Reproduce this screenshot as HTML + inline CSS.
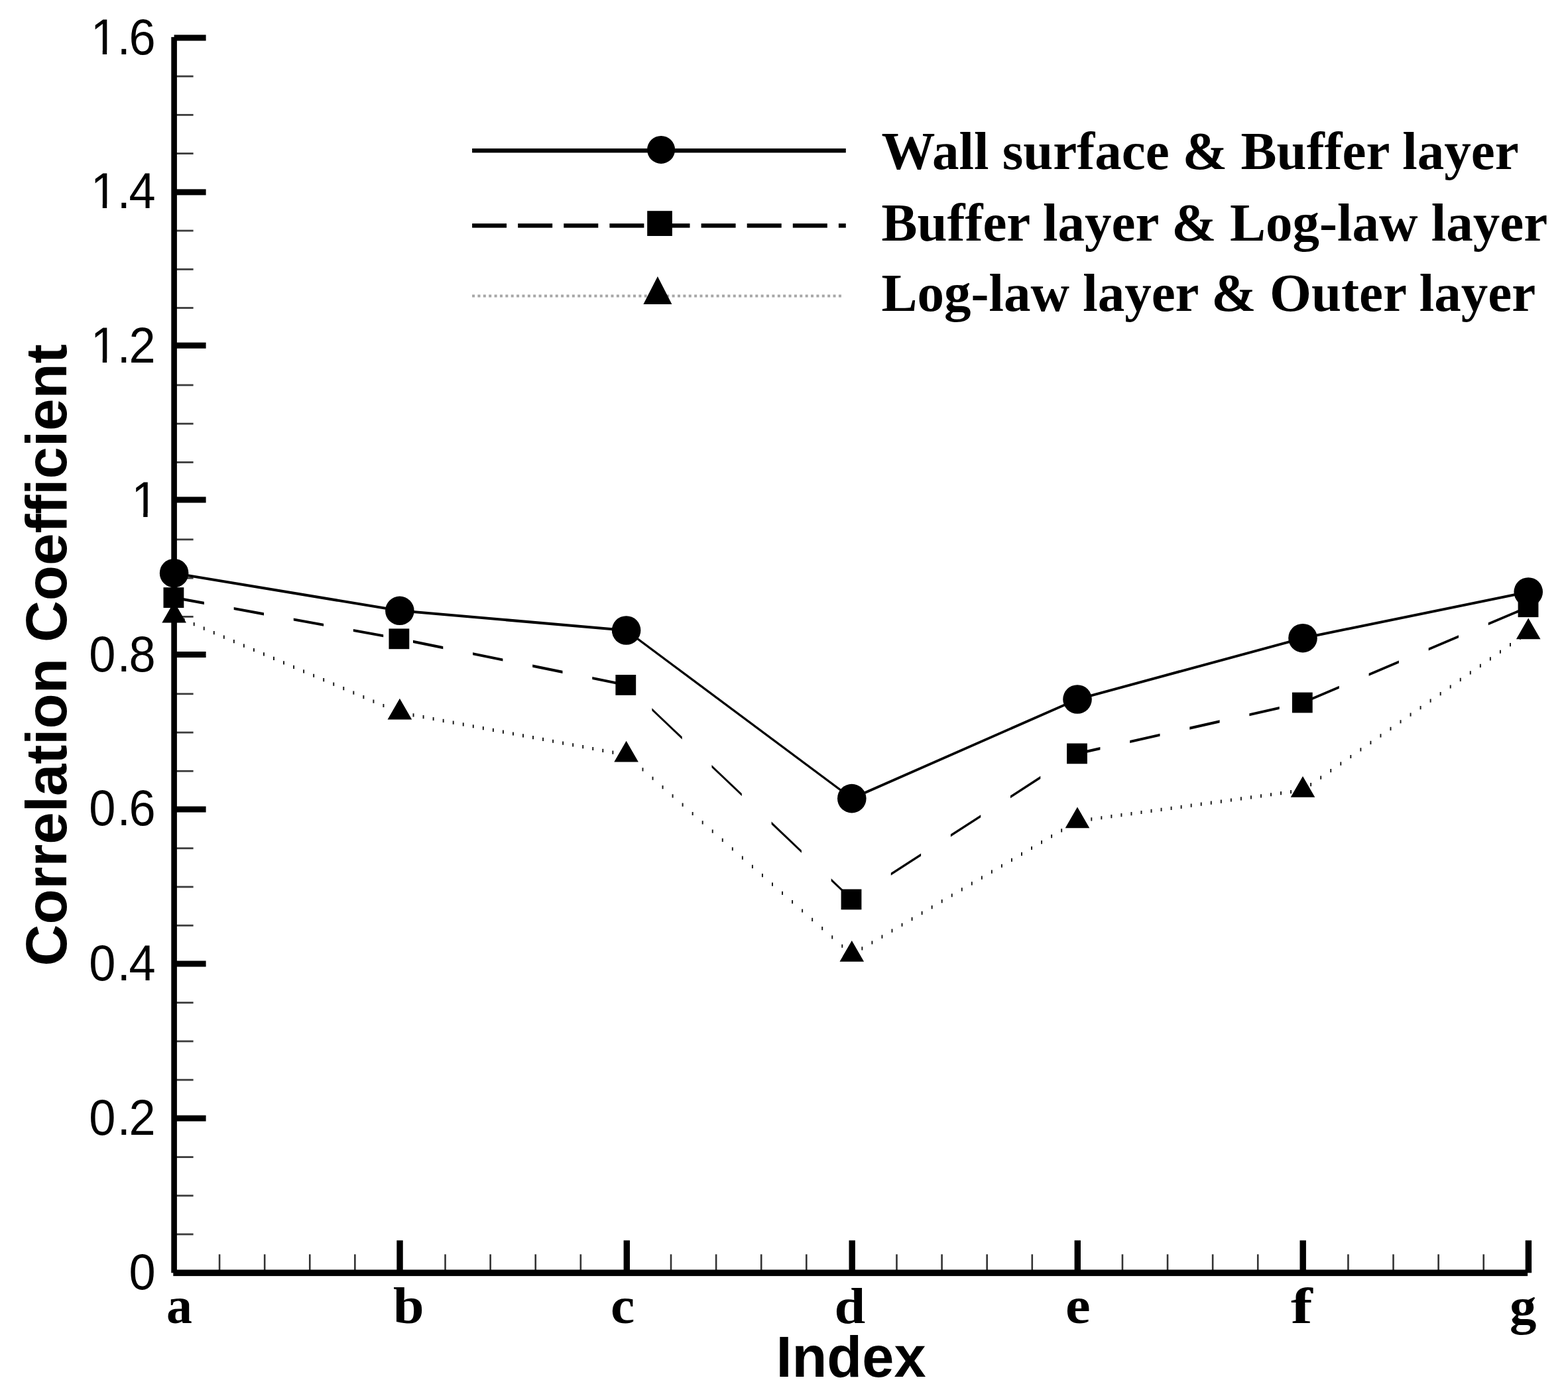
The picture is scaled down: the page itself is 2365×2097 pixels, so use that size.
<!DOCTYPE html>
<html lang="en">
<head>
<meta charset="utf-8">
<title>Correlation Coefficient vs Index</title>
<style>
html,body{margin:0;padding:0;background:#fff;}
body{width:2365px;height:2097px;overflow:hidden;}
svg{display:block;}
</style>
</head>
<body>
<svg width="2365" height="2097" viewBox="0 0 2365 2097" style="font-variant-ligatures:none;font-kerning:normal">
<rect x="0" y="0" width="2365" height="2097" fill="#fff"/>
<g id="minor" fill="#3c3c3c">
<rect x="262.6" y="113.73" width="29" height="2.8"/>
<rect x="262.6" y="171.96" width="29" height="2.8"/>
<rect x="262.6" y="230.19" width="29" height="2.8"/>
<rect x="262.6" y="346.66" width="29" height="2.8"/>
<rect x="262.6" y="404.89" width="29" height="2.8"/>
<rect x="262.6" y="463.12" width="29" height="2.8"/>
<rect x="262.6" y="579.58" width="29" height="2.8"/>
<rect x="262.6" y="637.81" width="29" height="2.8"/>
<rect x="262.6" y="696.04" width="29" height="2.8"/>
<rect x="262.6" y="812.51" width="29" height="2.8"/>
<rect x="262.6" y="870.74" width="29" height="2.8"/>
<rect x="262.6" y="928.97" width="29" height="2.8"/>
<rect x="262.6" y="1045.43" width="29" height="2.8"/>
<rect x="262.6" y="1103.66" width="29" height="2.8"/>
<rect x="262.6" y="1161.89" width="29" height="2.8"/>
<rect x="262.6" y="1278.36" width="29" height="2.8"/>
<rect x="262.6" y="1336.59" width="29" height="2.8"/>
<rect x="262.6" y="1394.82" width="29" height="2.8"/>
<rect x="262.6" y="1511.28" width="29" height="2.8"/>
<rect x="262.6" y="1569.51" width="29" height="2.8"/>
<rect x="262.6" y="1627.74" width="29" height="2.8"/>
<rect x="262.6" y="1744.21" width="29" height="2.8"/>
<rect x="262.6" y="1802.44" width="29" height="2.8"/>
<rect x="262.6" y="1860.67" width="29" height="2.8"/>
<rect x="329.79" y="1892.3" width="2.6" height="28" fill="#333"/>
<rect x="397.89" y="1892.3" width="2.6" height="28" fill="#333"/>
<rect x="465.98" y="1892.3" width="2.6" height="28" fill="#333"/>
<rect x="534.07" y="1892.3" width="2.6" height="28" fill="#333"/>
<rect x="670.26" y="1892.3" width="2.6" height="28" fill="#333"/>
<rect x="738.35" y="1892.3" width="2.6" height="28" fill="#333"/>
<rect x="806.45" y="1892.3" width="2.6" height="28" fill="#333"/>
<rect x="874.54" y="1892.3" width="2.6" height="28" fill="#333"/>
<rect x="1010.73" y="1892.3" width="2.6" height="28" fill="#333"/>
<rect x="1078.82" y="1892.3" width="2.6" height="28" fill="#333"/>
<rect x="1146.91" y="1892.3" width="2.6" height="28" fill="#333"/>
<rect x="1215.01" y="1892.3" width="2.6" height="28" fill="#333"/>
<rect x="1351.19" y="1892.3" width="2.6" height="28" fill="#333"/>
<rect x="1419.29" y="1892.3" width="2.6" height="28" fill="#333"/>
<rect x="1487.38" y="1892.3" width="2.6" height="28" fill="#333"/>
<rect x="1555.47" y="1892.3" width="2.6" height="28" fill="#333"/>
<rect x="1691.66" y="1892.3" width="2.6" height="28" fill="#333"/>
<rect x="1759.75" y="1892.3" width="2.6" height="28" fill="#333"/>
<rect x="1827.85" y="1892.3" width="2.6" height="28" fill="#333"/>
<rect x="1895.94" y="1892.3" width="2.6" height="28" fill="#333"/>
<rect x="2032.13" y="1892.3" width="2.6" height="28" fill="#333"/>
<rect x="2100.22" y="1892.3" width="2.6" height="28" fill="#333"/>
<rect x="2168.31" y="1892.3" width="2.6" height="28" fill="#333"/>
<rect x="2236.41" y="1892.3" width="2.6" height="28" fill="#333"/>
</g>
<g id="axes" fill="#000">
<rect x="258.3" y="55.9" width="8.6" height="1864.4"/>
<rect x="261.3" y="1915.5" width="2042.8" height="9.6"/>
<rect x="262.6" y="52.5" width="48" height="9"/>
<rect x="262.6" y="285.4" width="48" height="9"/>
<rect x="262.6" y="516.7" width="48" height="9"/>
<rect x="262.6" y="749.5" width="48" height="9"/>
<rect x="262.6" y="983" width="48" height="9"/>
<rect x="262.6" y="1216.5" width="48" height="9"/>
<rect x="262.6" y="1449.5" width="48" height="9"/>
<rect x="262.6" y="1682.6" width="48" height="9"/>
<rect x="598.35" y="1871.3" width="9.4" height="49"/>
<rect x="940.6" y="1871.3" width="9.4" height="49"/>
<rect x="1280.5" y="1871.3" width="9.4" height="49"/>
<rect x="1620.6" y="1871.3" width="9.4" height="49"/>
<rect x="1960.5" y="1871.3" width="9.4" height="49"/>
<rect x="2300.7" y="1871.3" width="9.4" height="49"/>
</g>
<g id="series" fill="#000">
<path d="M262.6 862.65 L602.9 919.25 L944.6 948.95 L1284.8 1202.55 L1625 1052.95 L1965 960.65 L2305.2 890.95 L2305.2 895.05 L1965 964.75 L1625 1057.05 L1284.8 1206.65 L944.6 953.05 L602.9 923.35 L262.6 866.75Z"/>
<path d="M262.6 899.55 L307.9 907.83 L307.9 911.93 L262.6 903.65Z M352.7 916.02 L398 924.3 L398 928.4 L352.7 920.12Z M442.8 932.49 L488.1 940.77 L488.1 944.87 L442.8 936.59Z M532.9 948.96 L578.2 957.24 L578.2 961.34 L532.9 953.06Z M623 965.84 L668.3 975.07 L668.3 979.17 L623 969.94Z M713.1 984.2 L758.4 993.42 L758.4 997.52 L713.1 988.3Z M803.2 1002.55 L848.5 1011.78 L848.5 1015.88 L803.2 1006.65Z M893.3 1020.9 L938.6 1030.13 L938.6 1034.23 L893.3 1025Z M983.4 1068.25 L1028.7 1111.32 L1028.7 1115.42 L983.4 1072.35Z M1073.5 1153.92 L1118.8 1197 L1118.8 1201.1 L1073.5 1158.02Z M1163.6 1239.6 L1208.9 1282.68 L1208.9 1286.78 L1163.6 1243.7Z M1253.7 1325.28 L1284.8 1354.85 L1299 1345.67 L1299 1349.77 L1284.8 1358.95 L1253.7 1329.38Z M1343.8 1316.7 L1389.1 1287.4 L1389.1 1291.5 L1343.8 1320.8Z M1433.9 1258.43 L1479.2 1229.14 L1479.2 1233.24 L1433.9 1262.53Z M1524 1200.16 L1569.3 1170.87 L1569.3 1174.97 L1524 1204.26Z M1614.1 1141.9 L1625 1134.85 L1659.4 1127.07 L1659.4 1131.17 L1625 1138.95 L1614.1 1146Z M1704.2 1116.94 L1749.5 1106.69 L1749.5 1110.79 L1704.2 1121.04Z M1794.3 1096.56 L1839.6 1086.31 L1839.6 1090.41 L1794.3 1100.66Z M1884.4 1076.18 L1929.7 1065.93 L1929.7 1070.03 L1884.4 1080.28Z M1974.5 1053.92 L2019.8 1034.71 L2019.8 1038.81 L1974.5 1058.02Z M2064.6 1015.7 L2109.9 996.49 L2109.9 1000.59 L2064.6 1019.8Z M2154.7 977.49 L2200 958.27 L2200 962.37 L2154.7 981.59Z M2244.8 939.27 L2290.1 920.05 L2290.1 924.15 L2244.8 943.37Z"/>
<path fill="#1a1a1a" d="M276.64 932.66h2v5.2h-2z M291.68 939.12h2v5.2h-2z M306.72 945.58h2v5.2h-2z M321.76 952.05h2v5.2h-2z M336.8 958.51h2v5.2h-2z M351.84 964.97h2v5.2h-2z M366.88 971.43h2v5.2h-2z M381.92 977.89h2v5.2h-2z M396.96 984.35h2v5.2h-2z M412 990.81h2v5.2h-2z M427.04 997.28h2v5.2h-2z M442.08 1003.74h2v5.2h-2z M457.12 1010.2h2v5.2h-2z M472.16 1016.66h2v5.2h-2z M487.2 1023.12h2v5.2h-2z M502.24 1029.58h2v5.2h-2z M517.28 1036.05h2v5.2h-2z M532.32 1042.51h2v5.2h-2z M547.36 1048.97h2v5.2h-2z M562.4 1055.43h2v5.2h-2z M577.44 1061.89h2v5.2h-2z M622.56 1076.26h2v5.2h-2z M637.6 1079.08h2v5.2h-2z M652.64 1081.89h2v5.2h-2z M667.68 1084.7h2v5.2h-2z M682.72 1087.51h2v5.2h-2z M697.76 1090.33h2v5.2h-2z M712.8 1093.14h2v5.2h-2z M727.84 1095.95h2v5.2h-2z M742.88 1098.76h2v5.2h-2z M757.92 1101.58h2v5.2h-2z M772.96 1104.39h2v5.2h-2z M788 1107.2h2v5.2h-2z M803.04 1110.01h2v5.2h-2z M818.08 1112.83h2v5.2h-2z M833.12 1115.64h2v5.2h-2z M848.16 1118.45h2v5.2h-2z M863.2 1121.26h2v5.2h-2z M878.24 1124.08h2v5.2h-2z M893.28 1126.89h2v5.2h-2z M908.32 1129.7h2v5.2h-2z M923.36 1132.51h2v5.2h-2z M968.48 1158.33h2v5.2h-2z M983.52 1171.64h2v5.2h-2z M998.56 1184.96h2v5.2h-2z M1013.6 1198.28h2v5.2h-2z M1028.64 1211.59h2v5.2h-2z M1043.68 1224.91h2v5.2h-2z M1058.72 1238.22h2v5.2h-2z M1073.76 1251.54h2v5.2h-2z M1088.8 1264.85h2v5.2h-2z M1103.84 1278.17h2v5.2h-2z M1118.88 1291.49h2v5.2h-2z M1133.92 1304.8h2v5.2h-2z M1148.96 1318.12h2v5.2h-2z M1164 1331.43h2v5.2h-2z M1179.04 1344.75h2v5.2h-2z M1194.08 1358.07h2v5.2h-2z M1209.12 1371.38h2v5.2h-2z M1224.16 1384.7h2v5.2h-2z M1239.2 1398.01h2v5.2h-2z M1254.24 1411.33h2v5.2h-2z M1269.28 1424.64h2v5.2h-2z M1299.36 1428.29h2v5.2h-2z M1314.4 1419.38h2v5.2h-2z M1329.44 1410.48h2v5.2h-2z M1344.48 1401.58h2v5.2h-2z M1359.52 1392.67h2v5.2h-2z M1374.56 1383.77h2v5.2h-2z M1389.6 1374.87h2v5.2h-2z M1404.64 1365.96h2v5.2h-2z M1419.68 1357.06h2v5.2h-2z M1434.72 1348.15h2v5.2h-2z M1449.76 1339.25h2v5.2h-2z M1464.8 1330.35h2v5.2h-2z M1479.84 1321.44h2v5.2h-2z M1494.88 1312.54h2v5.2h-2z M1509.92 1303.64h2v5.2h-2z M1524.96 1294.73h2v5.2h-2z M1540 1285.83h2v5.2h-2z M1555.04 1276.92h2v5.2h-2z M1570.08 1268.02h2v5.2h-2z M1585.12 1259.12h2v5.2h-2z M1600.16 1250.21h2v5.2h-2z M1645.28 1233.19h2v5.2h-2z M1660.32 1231.13h2v5.2h-2z M1675.36 1229.08h2v5.2h-2z M1690.4 1227.02h2v5.2h-2z M1705.44 1224.96h2v5.2h-2z M1720.48 1222.9h2v5.2h-2z M1735.52 1220.85h2v5.2h-2z M1750.56 1218.79h2v5.2h-2z M1765.6 1216.73h2v5.2h-2z M1780.64 1214.68h2v5.2h-2z M1795.68 1212.62h2v5.2h-2z M1810.72 1210.56h2v5.2h-2z M1825.76 1208.51h2v5.2h-2z M1840.8 1206.45h2v5.2h-2z M1855.84 1204.39h2v5.2h-2z M1870.88 1202.34h2v5.2h-2z M1885.92 1200.28h2v5.2h-2z M1900.96 1198.22h2v5.2h-2z M1916 1196.16h2v5.2h-2z M1931.04 1194.11h2v5.2h-2z M1946.08 1192.05h2v5.2h-2z M1976.16 1181.07h2v5.2h-2z M1991.2 1170.52h2v5.2h-2z M2006.24 1159.97h2v5.2h-2z M2021.28 1149.43h2v5.2h-2z M2036.32 1138.88h2v5.2h-2z M2051.36 1128.33h2v5.2h-2z M2066.4 1117.78h2v5.2h-2z M2081.44 1107.23h2v5.2h-2z M2096.48 1096.68h2v5.2h-2z M2111.52 1086.14h2v5.2h-2z M2126.56 1075.59h2v5.2h-2z M2141.6 1065.04h2v5.2h-2z M2156.64 1054.49h2v5.2h-2z M2171.68 1043.94h2v5.2h-2z M2186.72 1033.39h2v5.2h-2z M2201.76 1022.85h2v5.2h-2z M2216.8 1012.3h2v5.2h-2z M2231.84 1001.75h2v5.2h-2z M2246.88 991.2h2v5.2h-2z M2261.92 980.65h2v5.2h-2z M2276.96 970.1h2v5.2h-2z M2292 959.56h2v5.2h-2z"/>
<circle cx="262.6" cy="864.7" r="21.8"/>
<circle cx="602.9" cy="921.3" r="21.8"/>
<circle cx="944.6" cy="951" r="21.8"/>
<circle cx="1284.8" cy="1204.6" r="21.8"/>
<circle cx="1625" cy="1055" r="21.8"/>
<circle cx="1965" cy="962.7" r="21.8"/>
<circle cx="2305.2" cy="893" r="21.8"/>
<rect x="246.5" y="886.2" width="30.8" height="30.8"/>
<rect x="586.5" y="948.4" width="30.8" height="30.8"/>
<rect x="928.4" y="1018" width="30.8" height="30.8"/>
<rect x="1268.6" y="1341.5" width="30.8" height="30.8"/>
<rect x="1609.1" y="1121.5" width="30.8" height="30.8"/>
<rect x="1948.9" y="1044.6" width="30.8" height="30.8"/>
<rect x="2289.6" y="900.3" width="30.8" height="30.8"/>
<path d="M262.6 907.6 L280.9 939.4 L244.3 939.4Z"/>
<path d="M602.9 1053.8 L621.2 1085.6 L584.6 1085.6Z"/>
<path d="M944.6 1117.7 L962.9 1149.5 L926.3 1149.5Z"/>
<path d="M1284.8 1418.9 L1303.1 1450.7 L1266.5 1450.7Z"/>
<path d="M1625 1217.5 L1643.3 1249.3 L1606.7 1249.3Z"/>
<path d="M1965 1171 L1983.3 1202.8 L1946.7 1202.8Z"/>
<path d="M2305.2 932.4 L2323.5 964.2 L2286.9 964.2Z"/>
</g>
<g id="legend" fill="#000">
<rect x="712.1" y="224" width="563.7" height="6.4"/>
<rect x="712.1" y="337.2" width="52" height="6.4"/>
<rect x="781.2" y="337.2" width="52" height="6.4"/>
<rect x="850.3" y="337.2" width="52" height="6.4"/>
<rect x="919.4" y="337.2" width="52" height="6.4"/>
<rect x="988.5" y="337.2" width="52" height="6.4"/>
<rect x="1057.6" y="337.2" width="52" height="6.4"/>
<rect x="1126.7" y="337.2" width="52" height="6.4"/>
<rect x="1195.8" y="337.2" width="52" height="6.4"/>
<rect x="1264.9" y="337.2" width="10.9" height="6.4"/>
<path fill="#a6a6a6" d="M712.1 444.5h4v4h-4z M720.48 444.5h4v4h-4z M728.85 444.5h4v4h-4z M737.23 444.5h4v4h-4z M745.6 444.5h4v4h-4z M753.98 444.5h4v4h-4z M762.36 444.5h4v4h-4z M770.73 444.5h4v4h-4z M779.11 444.5h4v4h-4z M787.48 444.5h4v4h-4z M795.86 444.5h4v4h-4z M804.24 444.5h4v4h-4z M812.61 444.5h4v4h-4z M820.99 444.5h4v4h-4z M829.36 444.5h4v4h-4z M837.74 444.5h4v4h-4z M846.12 444.5h4v4h-4z M854.49 444.5h4v4h-4z M862.87 444.5h4v4h-4z M871.24 444.5h4v4h-4z M879.62 444.5h4v4h-4z M888 444.5h4v4h-4z M896.37 444.5h4v4h-4z M904.75 444.5h4v4h-4z M913.12 444.5h4v4h-4z M921.5 444.5h4v4h-4z M929.88 444.5h4v4h-4z M938.25 444.5h4v4h-4z M946.63 444.5h4v4h-4z M955 444.5h4v4h-4z M963.38 444.5h4v4h-4z M971.76 444.5h4v4h-4z M980.13 444.5h4v4h-4z M988.51 444.5h4v4h-4z M996.88 444.5h4v4h-4z M1005.26 444.5h4v4h-4z M1013.64 444.5h4v4h-4z M1022.01 444.5h4v4h-4z M1030.39 444.5h4v4h-4z M1038.76 444.5h4v4h-4z M1047.14 444.5h4v4h-4z M1055.52 444.5h4v4h-4z M1063.89 444.5h4v4h-4z M1072.27 444.5h4v4h-4z M1080.64 444.5h4v4h-4z M1089.02 444.5h4v4h-4z M1097.4 444.5h4v4h-4z M1105.77 444.5h4v4h-4z M1114.15 444.5h4v4h-4z M1122.52 444.5h4v4h-4z M1130.9 444.5h4v4h-4z M1139.28 444.5h4v4h-4z M1147.65 444.5h4v4h-4z M1156.03 444.5h4v4h-4z M1164.4 444.5h4v4h-4z M1172.78 444.5h4v4h-4z M1181.16 444.5h4v4h-4z M1189.53 444.5h4v4h-4z M1197.91 444.5h4v4h-4z M1206.28 444.5h4v4h-4z M1214.66 444.5h4v4h-4z M1223.04 444.5h4v4h-4z M1231.41 444.5h4v4h-4z M1239.79 444.5h4v4h-4z M1248.16 444.5h4v4h-4z M1256.54 444.5h4v4h-4z M1264.92 444.5h4v4h-4z"/>
<circle cx="997.1" cy="225.9" r="21"/>
<rect x="976.2" y="318.2" width="37.7" height="37.8"/>
<path d="M991.9 417.1 L1013.4 459 L970.4 459Z"/>
</g>
<defs>
<clipPath id="c3"><rect x="-140" y="-70" width="160" height="64.1"/><rect x="-84.05" y="-7" width="6.75" height="9"/><rect x="-62.28" y="-7" width="120" height="10"/></clipPath>
<clipPath id="c1"><rect x="-140" y="-70" width="160" height="64.1"/><rect x="-19.37" y="-7" width="6.75" height="9"/><rect x="2.4" y="-7" width="120" height="10"/></clipPath>
</defs>
<g id="ylabels" font-family="'Liberation Sans', sans-serif" font-size="76" fill="#000">
<g transform="translate(234.6 81.6) scale(0.95 1)"><text x="-103.05 -60.98 -42.27" y="0" clip-path="url(#c3)">1.6</text></g>
<g transform="translate(234.6 313.8) scale(0.95 1)"><text x="-103.05 -60.98 -42.27" y="0" clip-path="url(#c3)">1.4</text></g>
<g transform="translate(234.6 546.8) scale(0.95 1)"><text x="-103.05 -60.98 -42.27" y="0" clip-path="url(#c3)">1.2</text></g>
<g transform="translate(234.6 779.9) scale(0.95 1)"><text x="-38.37" y="0" clip-path="url(#c1)">1</text></g>
<g transform="translate(234.6 1012.5) scale(0.95 1)"><text x="-105.65 -60.98 -42.27" y="0">0.8</text></g>
<g transform="translate(234.6 1245.2) scale(0.95 1)"><text x="-105.65 -60.98 -42.27" y="0">0.6</text></g>
<g transform="translate(234.6 1479) scale(0.95 1)"><text x="-105.65 -60.98 -42.27" y="0">0.4</text></g>
<g transform="translate(234.6 1712) scale(0.95 1)"><text x="-105.65 -60.98 -42.27" y="0">0.2</text></g>
<g transform="translate(234.6 1945.4) scale(0.95 1)"><text x="-42.27" y="0">0</text></g>
</g>
<g id="xlabels" font-family="'Liberation Serif', serif" font-weight="bold" font-size="80" fill="#000">
<text transform="translate(250.97 1996.16) scale(0.9738 0.9882)" x="0" y="0">a</text>
<text transform="translate(593.05 1996.18) scale(1.0484 0.9653)" x="0" y="0">b</text>
<text transform="translate(920.89 1996.16) scale(1.0211 0.9818)" x="0" y="0">c</text>
<text transform="translate(1258.58 1996.18) scale(1.0509 0.9636)" x="0" y="0">d</text>
<text transform="translate(1606.98 1996.16) scale(1.0602 0.9882)" x="0" y="0">e</text>
<text transform="translate(1946.99 1996.4) scale(1.2259 0.9511)" x="0" y="0">f</text>
<text transform="translate(2276.98 1996.5) scale(1.0094 0.9689)" x="0" y="0">g</text>
</g>
<g id="legendtext" font-family="'Liberation Serif', serif" font-weight="bold" font-size="81" fill="#000">
<text x="1329.4" y="255">Wall surface &amp; Buffer layer</text>
<text x="1329.4" y="362.8">Buffer layer &amp; Log-law layer</text>
<text x="1329.4" y="468.7">Log-law layer &amp; Outer layer</text>
</g>
<g id="titles" font-family="'Liberation Sans', sans-serif" font-weight="bold" font-size="87.3" fill="#000">
<text transform="translate(1170.39 2076.99) scale(0.9923 1.0054)" x="0" y="0">Index</text>
<text transform="translate(99.85 1457.39) rotate(-90) scale(0.9970 1.0000)" x="0" y="0">Correlation Coefficient</text>
</g>
</svg>
</body>
</html>
